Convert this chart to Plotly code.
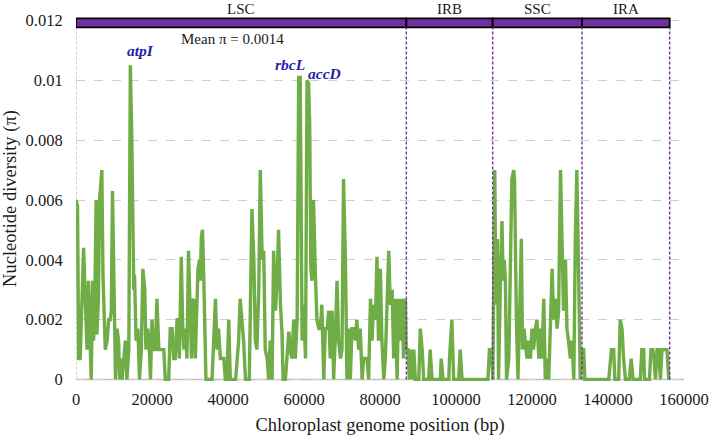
import plotly.graph_objects as go

# ---------------- data ----------------
pos_bp = [
    0, 400, 700, 1100, 2000, 2600, 2900, 3300, 3800, 4000, 4400, 4600, 4900, 5300, 5500, 5900, 6200, 6800,
    7100, 7300, 7700, 8200, 8600, 9000, 9300, 9600, 10100, 10400, 10800, 11200, 11500, 11800, 12100, 12500,
    13000, 13400, 13900, 14300, 14700, 15200, 15400, 15800, 16300, 16700, 17200, 17600, 18100, 18400, 18900,
    19300, 19600, 20000, 20400, 20900, 21300, 21800, 23100, 23500, 24400, 24800, 25300, 25700, 26100, 26600,
    26800, 27200, 27700, 28100, 28400, 28800, 29200, 29600, 30100, 30400, 30700, 31100, 31400, 31800, 32100,
    32500, 32700, 33000, 33300, 33600, 33900, 34200, 35800, 36200, 36700, 37100, 37500, 38000, 38900, 39300,
    39700, 40200, 40600, 42000, 42400, 42800, 43200, 43700, 44100, 44600, 45600, 46000, 46300, 46800, 47200,
    47600, 48100, 48500, 49000, 49400, 49800, 50300, 50700, 51100, 51600, 52000, 52500, 52900, 53300, 53800,
    54200, 54500, 55100, 55500, 56000, 56400, 56800, 57300, 57700, 58200, 58600, 59000, 59500, 59900, 60400,
    60800, 61200, 61500, 61800, 62100, 62500, 63000, 63400, 63900, 64300, 64700, 65200, 65600, 66100, 66500,
    66900, 67400, 67800, 68200, 68700, 69100, 69600, 70000, 70400, 70900, 71300, 71800, 72200, 72600, 73100,
    73500, 73900, 74400, 74800, 75300, 75700, 76600, 77000, 77500, 77900, 78300, 78800, 79200, 79600, 80100,
    80500, 81000, 81400, 81800, 82300, 82700, 83200, 83600, 84000, 84500, 84900, 85400, 85800, 86200, 86700,
    86900,
    87400, 87700, 88200, 88400, 88900, 89300, 90200, 90600, 91100, 91500, 92800, 93200, 93700, 95900, 96100,
    96600, 98100, 98300, 98900, 99400, 100700, 101100, 101600, 108400, 108800, 109300,
    109700, 110200, 110500, 110900, 111200, 111700, 112100, 112400, 112700, 113000, 113300, 113900, 114300,
    114700, 115200, 115400, 115900, 116300, 116800, 117200, 117500, 117900, 118200, 118700, 119100, 119600,
    120000, 120400, 120900, 121300, 121800, 122200, 122600, 123100, 123500, 123900, 124400, 124800, 125300,
    125700, 126100, 126600, 127000, 127500, 127900, 128300, 128800, 129200, 129600, 130100, 130500, 131000,
    131400, 131800, 132300, 132700,
    133200, 133600, 133900, 140200, 140900, 141500, 141800, 142800, 143200, 143700, 144100, 144600, 145600,
    146100, 146600, 148500, 148900, 149400, 149600, 150900, 151300, 151800, 152100, 152500, 152900, 153300,
    153800, 154200, 155100, 155500, 156000,
]
pi_values = [
    .0060, .0058, .0007, .0007, .0044, .0022, .0010, .0033, .0010, 0, .0033, .0013, .0022, .0060, .0015, .0027, .0060, .0070,
    .0035, .0027, .0010, .0013, .0020, .0020, .0023, .0063, .0027, 0, .0017, .0013, 0, .0007, 0, .0007,
    .0013, 0, .0010, .0105, .0080, .0030, .0035, .0013, .0017, 0, .0010, .0037, .0030, .0010, .0017,
    .0010, 0, .0020, .0010, .0010, .0027, .0010, .0010, 0, 0, .0017, .0017, .0007, .0007, .0020,
    .0020, .0007, .0041, .0017, .0010, .0017, .0007, .0043, .0013, .0007, .0027, .0026, .0007, .0022, .0037,
    .0040, .0033, .0048, .0050, .0035, .0013, 0, 0, .0010, .0027, .0010, .0017, .0007, .0007, 0,
    0, .0020, 0, 0, .0007, .0013, .0027, .0020, .0013, 0, 0, .0033, .0057, .0040, .0013,
    .0010, .0030, .0070, .0040, .0043, .0010, .0007, 0, .0013, 0, .0043, .0023, .0033, .0050, .0025,
    .0016, 0, 0, .0007, .0016, .0010, .0007, .0020, .0007, .0020, .0101, .0101, .0013, .0025, .0007,
    .0100, .0099, .0085, .0037, .0033, .0060, .0035, .0020, .0017, .0017, .0025, 0, .0017, .0017, .0023,
    .0007, .0023, 0, .0013, .0033, .0013, .0007, .0010, .0067, .0040, 0, .0017, 0, .0017, .0017,
    .0013, .0020, .0010, .0017, 0, .0007, .0007, 0, .0027, .0013, .0025, .0020, .0041, .0013, .0037,
    .0013, 0, .0007, .0023, .0043, .0025, .0030, .0007, .0027, 0, .0027, .0013, .0027, .0007, .0027,
    .0010,
    .0010, 0, .0010, 0, .0010, 0, 0, .0017, .0010, 0, 0, .0010, 0, 0, .0007,
    0, 0, .0007, .0020, 0, 0, .0010, 0, 0, .0010, .0010,
    0, .0070, .0025, .0047, 0, .0033, .0053, .0033, .0040, .0033, 0, .0007, .0033,
    .0067, .0070, .0067, .0020, 0, .0025, .0047, .0010, .0017, .0013, .0007, .0013, .0007,
    .0017, .0010, .0017, .0020, .0007, .0017, .0007, .0027, 0, .0007, 0, .0017, .0037,
    .0020, .0027, .0017, .0023, .0070, .0043, .0023, .0040, .0017, .0013, .0007, .0013, 0,
    .0047, .0070, .0033, 0,
    .0010, .0010, 0, 0, .0010, .0010, 0, 0, .0020, .0017, .0007, 0, 0,
    .0007, 0, 0, .0010, .0010, 0, 0, .0010, .0010, .0007, 0, .0010, .0010,
    0, .0010, .0010, .0010, 0,
]

region_names = ["LSC", "IRB", "SSC", "IRA"]
region_bounds = [0, 86930, 109650, 133160, 156230]

genes = ["atpI", "rbcL", "accD"]
gene_pos = [17100, 56200, 65300]
gene_pi = [0.0110, 0.01053, 0.01023]

mean_text = "Mean π = 0.0014"
y_tick_vals = [0, 0.002, 0.004, 0.006, 0.008, 0.010, 0.012]
y_tick_text = ["0", "0.002", "0.004", "0.006", "0.008", "0.01", "0.012"]
x_tick_vals = [0, 20000, 40000, 60000, 80000, 100000, 120000, 140000, 160000]

# ---------------- style ----------------
FONT = "Liberation Serif"
GREEN = "#70AD47"
PURPLE = "#7030A0"
GRID = "#D0D0D0"
TEXT = "#1a1a1a"

fig = go.Figure()
fig.add_trace(go.Scatter(
    x=pos_bp, y=pi_values, mode="lines",
    line=dict(color=GREEN, width=3.4), hoverinfo="skip", showlegend=False,
))

shapes = []
bar_lo, bar_hi = 0.01177, 0.01207
# purple region bar
for i in range(len(region_names)):
    shapes.append(dict(type="rect", xref="x", yref="y",
                       x0=region_bounds[i], x1=region_bounds[i + 1], y0=bar_lo, y1=bar_hi,
                       fillcolor=PURPLE, line=dict(color="black", width=1.8), layer="above"))
# dashed region dividers
for b in region_bounds[1:]:
    shapes.append(dict(type="line", xref="x", yref="y", x0=b, x1=b, y0=0, y1=bar_lo,
                       line=dict(color=PURPLE, width=1.4, dash="3px,2px"), layer="above"))
# left dashed axis line
shapes.append(dict(type="line", xref="x", yref="y", x0=0, x1=0, y0=0, y1=bar_lo,
                   line=dict(color="#A6A6A6", width=1, dash="3px,2px"), layer="below"))
# baseline
shapes.append(dict(type="line", xref="paper", yref="y", x0=0, x1=1, y0=0, y1=0,
                   line=dict(color="#BFBFBF", width=1.5), layer="below"))

annotations = []
for i, name in enumerate(region_names):
    annotations.append(dict(x=(region_bounds[i] + region_bounds[i + 1]) / 2, y=1,
                            xref="x", yref="paper", yanchor="middle", yshift=7,
                            text=name, showarrow=False,
                            font=dict(family=FONT, size=15, color=TEXT)))
annotations.append(dict(x=41300, y=0.01137, xref="x", yref="y", text=mean_text, showarrow=False,
                        font=dict(family=FONT, size=15, color=TEXT)))
for g, gx, gy in zip(genes, gene_pos, gene_pi):
    annotations.append(dict(x=gx, y=gy, xref="x", yref="y", text=f"<b><i>{g}</i></b>", showarrow=False,
                            font=dict(family=FONT, size=15.5, color="#1F1FA8")))

fig.update_layout(
    width=709, height=440,
    margin=dict(l=76, r=25, t=15.5, b=58.5, autoexpand=False),
    paper_bgcolor="white", plot_bgcolor="white",
    font=dict(family=FONT, size=16, color=TEXT),
    shapes=shapes, annotations=annotations,
    xaxis=dict(range=[0, 160000], tickvals=x_tick_vals, tickformat="d",
               showgrid=False, zeroline=False, showline=False, automargin=False,
               ticks="outside", ticklen=3, tickcolor="rgba(0,0,0,0)",
               tickfont=dict(family=FONT, size=16.5, color=TEXT),
               title=dict(text="Chloroplast genome position (bp)", font=dict(family=FONT, size=18.5, color=TEXT), standoff=10)),
    yaxis=dict(range=[-0.00005, 0.01215], tickvals=y_tick_vals, ticktext=y_tick_text,
               showgrid=True, gridcolor=GRID, griddash="dash", gridwidth=1,
               zeroline=False, showline=False, automargin=False,
               ticks="outside", ticklen=9, tickcolor="rgba(0,0,0,0)",
               tickfont=dict(family=FONT, size=16.5, color=TEXT),
               title=dict(text="Nucleotide diversity (π)", font=dict(family=FONT, size=18.5, color=TEXT), standoff=7)),
)

fig.write_html("out.html")
